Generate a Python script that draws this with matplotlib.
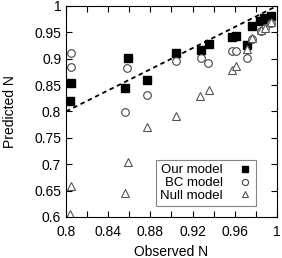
import matplotlib.pyplot as plt
import numpy as np

plt.rcParams['font.family'] = ['Liberation Sans', 'DejaVu Sans']

# observed N for each of the three models
obs_our = [0.804, 0.805, 0.859, 0.856, 0.877, 0.904, 0.928, 0.936, 0.957, 0.961,
           0.972, 0.976, 0.984, 0.988, 0.991, 0.994]
pred_our = [0.820, 0.854, 0.901, 0.845, 0.860, 0.911, 0.917, 0.928, 0.941, 0.943,
            0.926, 0.962, 0.971, 0.977, 0.975, 0.981]

obs_bc = [0.805, 0.805, 0.858, 0.856, 0.877, 0.904, 0.928, 0.935, 0.957, 0.961,
          0.972, 0.976, 0.985, 0.989, 0.994]
pred_bc = [0.911, 0.884, 0.883, 0.799, 0.831, 0.896, 0.901, 0.892, 0.915, 0.915,
           0.901, 0.937, 0.953, 0.958, 0.968]

obs_null = [0.805, 0.804, 0.859, 0.856, 0.877, 0.904, 0.927, 0.936, 0.957, 0.961,
            0.972, 0.976, 0.985, 0.989, 0.994]
pred_null = [0.659, 0.606, 0.704, 0.645, 0.771, 0.792, 0.830, 0.841, 0.879, 0.887,
             0.918, 0.940, 0.954, 0.958, 0.969]

fig = plt.figure(figsize=(2.82, 2.58), dpi=100)
ax = fig.add_axes([0.234, 0.159, 0.748, 0.818])

ax.plot([0.8, 1.0], [0.8, 1.0], 'k--', lw=1.3, dashes=(2.5, 2.0))
ax.plot(obs_our, pred_our, 's', color='black', ms=5.8, label='Our model')
ax.plot(obs_bc, pred_bc, 'o', mfc='white', mec='#444444', mew=0.8, ms=5.5, label='BC model')
ax.plot(obs_null, pred_null, '^', mfc='white', mec='#555555', mew=0.8, ms=5.5, label='Null model')

ax.set_xlim(0.8, 1.0)
ax.set_ylim(0.6, 1.0)
ax.set_xticks(np.arange(0.8, 1.001, 0.02), minor=True)
ax.set_xticks([0.8, 0.84, 0.88, 0.92, 0.96, 1.0])
ax.set_xticklabels(['0.8', '0.84', '0.88', '0.92', '0.96', '1'])
ax.set_yticks([0.6, 0.65, 0.7, 0.75, 0.8, 0.85, 0.9, 0.95, 1.0])
ax.set_yticklabels(['0.6', '0.65', '0.7', '0.75', '0.8', '0.85', '0.9', '0.95', '1'])
ax.tick_params(which='both', direction='in', top=True, right=True, labelsize=10, width=0.8)
ax.tick_params(which='major', length=4)
ax.tick_params(which='minor', length=4)
ax.tick_params(axis='x', pad=6)
ax.xaxis.set_tick_params(which='minor', labelbottom=False)

ax.set_xlabel('Observed N', fontsize=10, labelpad=4)
ax.set_ylabel('Predicted N', fontsize=10, labelpad=12)

leg = ax.legend(loc='lower right', bbox_to_anchor=(0.90, 0.052), markerfirst=False,
                fontsize=9.5, frameon=True, fancybox=False, handlelength=1.0,
                handletextpad=1.2, borderpad=0.3, borderaxespad=0.0,
                labelspacing=0.05, markerscale=0.8)
leg.get_frame().set_edgecolor('#666666')
leg.get_frame().set_linewidth(0.8)

fig.savefig('out.png', dpi=100)
